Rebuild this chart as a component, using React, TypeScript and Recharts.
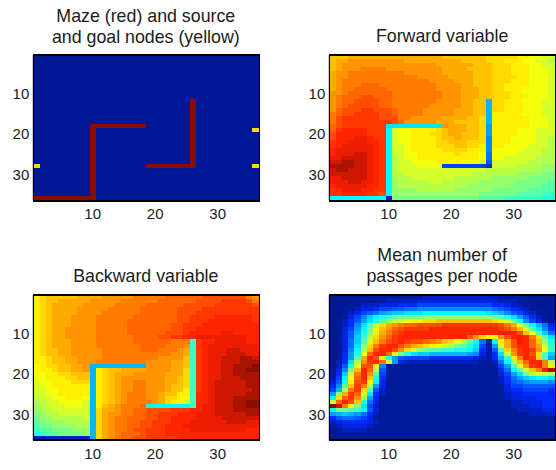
import React from 'react';
import { ScatterChart, Scatter, XAxis, YAxis } from 'recharts';

// each row is 36 cells, left to right, one base-36 digit per cell: 0 = bottom of the colour scale, z = top
const mazeRows = [
  '000000 000000 000000 000000 000000 000000',
  '000000 000000 000000 000000 000000 000000',
  '000000 000000 000000 000000 000000 000000',
  '000000 000000 000000 000000 000000 000000',
  '000000 000000 000000 000000 000000 000000',
  '000000 000000 000000 000000 000000 000000',
  '000000 000000 000000 000000 000000 000000',
  '000000 000000 000000 000000 000000 000000',
  '000000 000000 000000 000000 000000 000000',
  '000000 000000 000000 000000 000000 000000',
  '000000 000000 000000 000000 000000 000000',
  '000000 000000 000000 000000 0z0000 000000',
  '000000 000000 000000 000000 0z0000 000000',
  '000000 000000 000000 000000 0z0000 000000',
  '000000 000000 000000 000000 0z0000 000000',
  '000000 000000 000000 000000 0z0000 000000',
  '000000 000000 000000 000000 0z0000 000000',
  '000000 000zzz zzzzzz 000000 0z0000 000000',
  '000000 000z00 000000 000000 0z0000 00000n',
  '000000 000z00 000000 000000 0z0000 000000',
  '000000 000z00 000000 000000 0z0000 000000',
  '000000 000z00 000000 000000 0z0000 000000',
  '000000 000z00 000000 000000 0z0000 000000',
  '000000 000z00 000000 000000 0z0000 000000',
  '000000 000z00 000000 000000 0z0000 000000',
  '000000 000z00 000000 000000 0z0000 000000',
  '000000 000z00 000000 000000 0z0000 000000',
  'n00000 000z00 000000 zzzzzz zz0000 00000n',
  '000000 000z00 000000 000000 000000 000000',
  '000000 000z00 000000 000000 000000 000000',
  '000000 000z00 000000 000000 000000 000000',
  '000000 000z00 000000 000000 000000 000000',
  '000000 000z00 000000 000000 000000 000000',
  '000000 000z00 000000 000000 000000 000000',
  '000000 000z00 000000 000000 000000 000000',
  'zzzzzz zzzz00 000000 000000 000000 000000',
];

const forwardRows = [
  'oooppp pppppp pppppp oooooo onnnnn mmllkk',
  'oppqqq qqqqqq pppppp pppooo onnnmm mllkkj',
  'opqqqq qqqqqq qqqqqp pppppo oonnnm mmllkk',
  'opqqqr rrrqqq qqqqqq ppppoo oonnnm mmlllk',
  'pqqrrr rrrrrr qqqqqq pppppo oonnnm mmlllk',
  'pqqrrr rrrrrr rrqqqq qppppo oonnnn mmlllk',
  'pqrrrr rrrrrr rrrrqq qqpppo oonnnm mmlllk',
  'pqrrrs ssrrrr rrrrrq qqqppo oonnmm mmlllk',
  'pqrrss sssrrr rrrrrq qqqppp oonnmm mllllk',
  'qqrsss ssssrr rrrrrr qqqppp oonnnm mllllk',
  'qrssst tsssrr rrrrrr qqqppp oonnnm mmlllk',
  'qrsstt ttssrr rrrrrq qqqppo oannmm mlllkk',
  'qrsttt ttssrr rrrrqq qqqppo oannmm mlllkk',
  'qstttu utttsr rrrqqq qqpppo oannmm mlllkk',
  'rsttuu uuttsr rrrqqq qqpppo oammmm mlllkk',
  'rtuuuu uutttr rqqqqq ppppoo nammmm mmlllk',
  'rtuuuu uuuuts qqqqqp ppoooo nammmm mmlllk',
  'stuuuu uuuccc cccccc qpppoo n9mmmm mmlllk',
  'suvvvv uuudkl lmmmmn opppoo n9mmmm lllkkk',
  'tvvvvv uuudkl lmmmnn oppooo n9mmmm lllkkk',
  'tvvvww vuudkl lmmmmn oopooo n8mmml lllkkj',
  'uvvwww vvudkl lmmmmn nooonn n8mmml lllkkj',
  'uvwwww wvudkk lmmmmn nnoonn m8mmll llkkkj',
  'vwwwww wvudkk lmmmmm nnnnmm m8llll lkkkjj',
  'vwwwxx wvudkk llmmmm mmnmmm l7llll kkkkjj',
  'wwxxxx wvudjk llmmmm mmmmmm l7llkk kkkjjj',
  'xxyyxx wvudjk kllllm mmmlll k6kkkk kkjjjj',
  'yyyyxx wvudjk kkllll 555555 53kkkk jjjjii',
  'xyyxxx wvudjk kkkkkk kkkkkk kjjjjj jjjiii',
  'xxxxxx wvudjj kkkkkk kkkkkj jjjjjj iiiihh',
  'wwxxxx wvudjj jkkkkk kkjjjj jjiiii iihhhh',
  'wwwxxw wvudij jjjjkk jjjjjj iiiiii hhhhhg',
  'vwwwww vvudij jjjjjj jjjjii iiiiih hhhhgg',
  'uvwwwv vuudii iijjjj jjiiii iihhhh hhgggg',
  'uuvvvv uutdii iiiiii iiiiii hhhhhh ggggff',
  'dddddd ddd2hh hhhhhh hhhhhh ggggff ffffee',
];

const backwardRows = [
  'mnoooo oppppq qqqqrr rrrsss sssttt ttttrq',
  'mnoopp pppqqq qqrrrr rrssss sstttt uuuutr',
  'mnoppp ppqqqq qrrrrr ssssss tttttu uuuuut',
  'mnoppp pqqqqq rrrrrs ssssst tttuuu uuuuuu',
  'mnoppp pqqqqr rrrrrs ssssst ttuuuu uuuuuu',
  'mnoppp qqqqrr rrrrss ssssst tuuuuv vvvvvu',
  'mnoppp qqqqrr rrrsss ssssst tuuuvv vvvvvu',
  'mnoppp qqqqrr rrrsss sssstt uuuvvv vvvvvv',
  'mnoppq qqqqrr rrrsss sssstt uuvvvv vvvvvv',
  'mnoppq qqqqrr rrrsss sssttt uvvvvv wwvvvv',
  'mnoppq qqqqrr rrrrss ssttuu vvwwww wwwwvv',
  'mnoppp qqqqrr rrrrss ssssrr rfuvvw wwwwvv',
  'mnoppp qqqqrr rrrrrs sssrrr qfuvww wwwwww',
  'mnoopp qqqqqr rrrrrs ssrrrq pfuvww wxxwww',
  'mnoopp qqqqqr rrrrrr rrrrqq pfuvww wxxxww',
  'mmnoop pqqqqr rrrrrr rrqqqq ofuvww xxxyyx',
  'mmnoop pqqqrr rrrrrr qqqqpp ofuvww xxxyyy',
  'lmnnoo ppqaaa aaaaaa qqqqpp ofuvww xxyyyz',
  'lmmnoo ppqamn oopppp qqqqpp nfuvww xxyyzz',
  'llmmnn oooamn opppqq qqqppp nfuvww xxyyyy',
  'llmmmn nooamn opqqqq qqqppo nfuvww xxxyyy',
  'kllmmm nnnamn opqqrr qqqppo nfuvwx xxxxyy',
  'kllmmm mmmamn opqqrr qqqpoo nfuvwx xxxxyy',
  'kkllmm mmmamn opqqrr qqqpoo mfuvwx xxxxxy',
  'kkllmm mmmamn opqrrr qqpoom mfvvwx xxxxyy',
  'jkkllm mmlamn opqrrr qqpnnm lfvvwx xxyyyy',
  'jjkkll llkamn opqrrr rqpnml kfvvwx xxyyzz',
  'ijkkkl llkamo pqrrrs dddddd dfvwwx xxyyzz',
  'ijjkkk kkkanp pqrrss ttttuu uvvwwx xxyyyy',
  'hijjkk kkkanp qqrrss ttuuuv vvwwwx xxxxyy',
  'hiijjj jjkanp qrrsss ttuuvv vvwwww xxxxxx',
  'ghiiij jjjanp qrrsst tuuuvv vwwwww wxxxww',
  'ghhiii ijjanp qrrsst tuuvvv wwwwww wwwwww',
  'fgghhh iiianp qrrstt uuuvvv vwwwww wwwwvv',
  'efgghh hhianp qrssst uuuvvv vvvvvv vvvvvv',
  '222222 222anp qrsstt uuuuuv vvvvvv vvvvvv',
];

const passageRows = [
  '000001 111111 111222 222222 222111 110000',
  '000011 111222 223333 333333 333222 111000',
  '000112 223334 445555 555555 554432 211000',
  '001123 345566 778888 888888 887654 321100',
  '001235 679abb cccddd dddddd dcba86 532100',
  '001358 bdefgh hhhiii iiiiii iihgec 964210',
  '012469 cegijk lmmnno oooooo oonmkh d85310',
  '01248c gknpqr sstttt uuuuuu uuutrp lhda73',
  '01359d hloqst uuuuvv vvvvvv vvvutr okgc84',
  '0136ae imprtu vvvvvv vvvvvv vvvwwv tolgb7',
  '0136bf jnqsuv vvvvvv vvvvtq nlmqtv wvrngc',
  '0137bg kortuv uttsrq onljgd 71dmpt wvsoie',
  '0137ci nruvvt rponml kjhgec 519kpt vvspkf',
  '0138dj otvvtq nkihgg ffeedb 416gnr uvuqlf',
  '0149el svvsmh ecbbaa aaaa98 314ckq uvtngb',
  '0149gp vtme96 555544 444443 214afm rvunf9',
  '024cjq uvrk93 222222 222222 1127dj osvvrj',
  '026ekt tm8111 111111 111111 11159g lquvrm',
  '138hov sj6111 111111 111111 11147d hkorwy',
  '14bkrv qg5111 111111 111111 111359 chjkkj',
  '15dlsv oe4111 111111 111111 111247 9bcddc',
  '26emtu md3111 111111 111111 111246 789998',
  '38gour j93111 111111 111111 111135 566666',
  '5ajrun g62111 111111 111111 111134 455554',
  '9ipusk c42111 111111 111111 111123 344443',
  'dnsuqi 931111 111111 111111 111123 333444',
  'ksvtoe 731111 111111 111111 111112 233344',
  'zxrmhc 521111 111111 111111 111112 223344',
  'dhhgfd 631111 111111 111111 111111 222233',
  '9aba97 421111 111111 111111 111111 112222',
  '467765 311111 111111 111111 111111 111111',
  '234444 321111 111111 111111 111111 111111',
  '123333 211111 111111 111111 111111 111111',
  '012222 111111 111111 111111 111111 111111',
  '011111 111111 111111 111111 111111 111111',
  '011111 111111 111111 111111 111111 111111',
];

const tickValues = [10, 20, 30];

const FONT = '"Liberation Sans", Arial, sans-serif';
const PLOT_W = 225;
const PLOT_H = 145.5;
const CELL_W = PLOT_W / 36;
const CELL_H = PLOT_H / 36;

const stops: [number, number, number, number][] = [
  [0, 0, 24, 152],
  [0.03, 0, 26, 156],
  [0.11, 0, 40, 255],
  [0.375, 0, 255, 255],
  [0.61, 255, 255, 0],
  [0.875, 255, 40, 0],
  [0.9, 255, 30, 0],
  [1, 135, 15, 0],
];

const jet = (t: number) => {
  let i = 0;
  while (i < stops.length - 2 && t > stops[i + 1][0]) i++;
  const [a, r0, g0, b0] = stops[i];
  const [b, r1, g1, b1] = stops[i + 1];
  const f = (t - a) / (b - a);
  return `rgb(${Math.round(r0 + (r1 - r0) * f)},${Math.round(g0 + (g1 - g0) * f)},${Math.round(b0 + (b1 - b0) * f)})`;
};

const toCells = (rows: string[]) =>
  rows.flatMap((line, r) =>
    line
      .replace(/ /g, '')
      .split('')
      .map((ch, c) => ({ col: c + 1, row: r + 1, value: parseInt(ch, 36) / 35 }))
  );

const Cell = (p: any) => (
  <rect
    x={p.cx - CELL_W / 2}
    y={p.cy - CELL_H / 2}
    width={CELL_W + 0.5}
    height={CELL_H + 0.5}
    fill={jet(p.payload.value)}
    shapeRendering="crispEdges"
  />
);

const tickStyle = { fontSize: 15, fill: '#1c1c1c', fontFamily: FONT };

const Panel = ({ rows, left, top, title, titleTop }: any) => (
  <>
    <div
      style={{
        position: 'absolute',
        left: left + 6.8,
        top: titleTop,
        width: 278,
        textAlign: 'center',
        font: `17.8px/21px ${FONT}`,
        color: '#1c1c1c',
      }}
    >
      {title.map((t: string) => (
        <div key={t}>{t}</div>
      ))}
    </div>
    <div style={{ position: 'absolute', left, top }}>
      <ScatterChart width={278} height={235} margin={{ top: 55, right: 19.7, bottom: 0, left: 0 }}>
        <XAxis
          type="number"
          dataKey="col"
          domain={[0.5, 36.5]}
          ticks={tickValues}
          height={34.5}
          tickSize={-2}
          tickMargin={10}
          stroke="#000"
          tick={tickStyle}
          interval={0}
        />
        <YAxis
          type="number"
          dataKey="row"
          domain={[0.5, 36.5]}
          ticks={tickValues}
          reversed
          width={33.3}
          tickSize={-2}
          tickMargin={6}
          stroke="#000"
          tick={tickStyle}
          interval={0}
        />
        <Scatter data={toCells(rows)} shape={Cell} isAnimationActive={false} />
      </ScatterChart>
      <div
        style={{
          position: 'absolute',
          left: 33,
          top: 54,
          width: PLOT_W,
          height: 143.5,
          borderLeft: '1px solid #000',
          borderRight: '1px solid #000',
          borderTop: '2px solid #000',
          borderBottom: '2px solid #000',
          pointerEvents: 'none',
        }}
      />
    </div>
  </>
);

export default function App() {
  return (
    <div style={{ position: 'absolute', left: 0, top: 0, width: 556, height: 470, overflow: 'hidden', background: '#fff' }}>
      <Panel rows={mazeRows} left={0} top={0} title={['Maze (red) and source', 'and goal nodes (yellow)']} titleTop={6} />
      <Panel rows={forwardRows} left={296.3} top={0} title={['Forward variable']} titleTop={26} />
      <Panel rows={backwardRows} left={0} top={239.5} title={['Backward variable']} titleTop={266} />
      <Panel rows={passageRows} left={296.3} top={239.5} title={['Mean number of', 'passages per node']} titleTop={245} />
    </div>
  );
}
